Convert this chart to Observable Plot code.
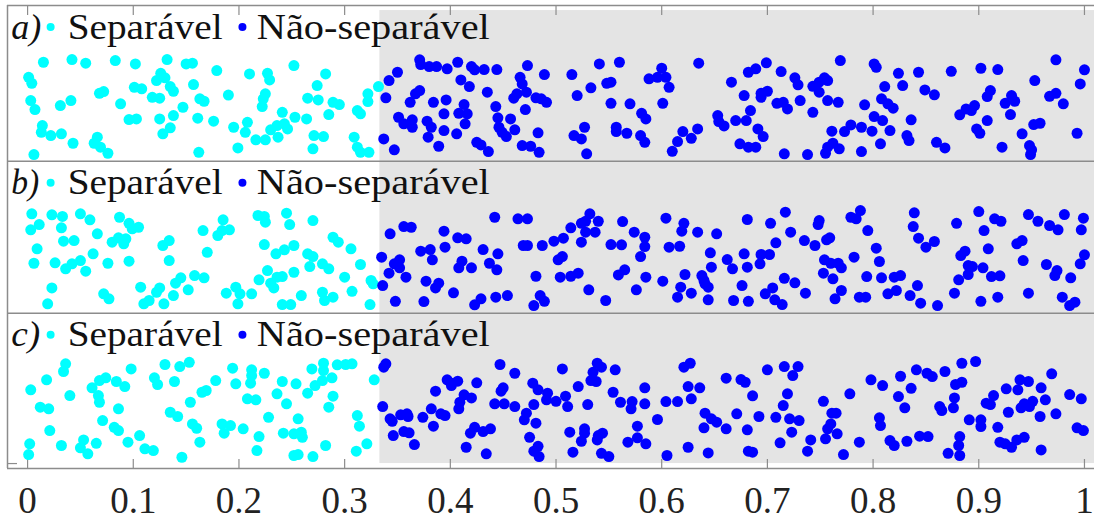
<!DOCTYPE html>
<html><head><meta charset="utf-8">
<script src="https://cdn.jsdelivr.net/npm/d3@7"></script>
<script src="https://cdn.jsdelivr.net/npm/@observablehq/plot@0.6"></script>
<style>html,body{margin:0;padding:0;background:#fff;} #chart svg{display:block;}</style>
</head><body><div id="chart"></div>
<script>
// ---------------- data ----------------
const panels = ["a)", "b)", "c)"];
const classes = ["Separável", "Não-separável"];
const xTicks = [0, 0.1, 0.2, 0.3, 0.4, 0.5, 0.6, 0.7, 0.8, 0.9, 1];
const tickLabels = ["0", "0.1", "0.2", "0.3", "0.4", "0.5", "0.6", "0.7", "0.8", "0.9", "1"];
const threshold = 1 / 3;

// [x, y] points, y in 0..1 within each panel
const sepA = [[0.001,0.807],[0.004,0.745],[0.015,0.962],[0.042,0.990],[0.055,0.952],[0.083,0.979],[0.102,0.945],[0.132,0.990],[0.150,0.945],[0.156,0.952],[0.179,0.876],[0.210,0.842],[0.227,0.848],[0.229,0.780],[0.252,0.928],[0.282,0.842],[0.126,0.848],[0.122,0.773],[0.130,0.801],[0.135,0.711],[0.138,0.663],[0.157,0.732],[0.101,0.704],[0.108,0.688],[0.068,0.642],[0.072,0.660],[0.003,0.567],[0.007,0.474],[0.031,0.515],[0.041,0.567],[0.088,0.533],[0.118,0.601],[0.125,0.591],[0.163,0.585],[0.167,0.560],[0.147,0.498],[0.190,0.624],[0.225,0.636],[0.223,0.585],[0.222,0.505],[0.274,0.722],[0.265,0.591],[0.275,0.574],[0.289,0.549],[0.295,0.526],[0.322,0.636],[0.322,0.557],[0.332,0.711],[0.312,0.464],[0.315,0.430],[0.285,0.423],[0.241,0.446],[0.253,0.395],[0.264,0.378],[0.096,0.371],[0.103,0.378],[0.125,0.378],[0.138,0.412],[0.161,0.385],[0.176,0.354],[0.014,0.309],[0.013,0.240],[0.022,0.206],[0.032,0.224],[0.043,0.127],[0.066,0.189],[0.063,0.127],[0.069,0.086],[0.076,0.024],[0.006,0.010],[0.128,0.224],[0.135,0.286],[0.162,0.034],[0.195,0.292],[0.208,0.343],[0.206,0.240],[0.216,0.162],[0.225,0.162],[0.230,0.265],[0.236,0.309],[0.243,0.327],[0.246,0.275],[0.237,0.189],[0.199,0.079],[0.271,0.206],[0.280,0.196],[0.270,0.069],[0.309,0.189],[0.312,0.086],[0.315,0.034],[0.323,0.034]];

const nonA = [[0.337,0.172],[0.342,0.773],[0.350,0.859],[0.339,0.595],[0.351,0.395],[0.347,0.059],[0.371,0.987],[0.372,0.938],[0.380,0.918],[0.387,0.918],[0.397,0.894],[0.407,0.962],[0.420,0.918],[0.423,0.884],[0.432,0.887],[0.444,0.887],[0.473,0.928],[0.489,0.835],[0.410,0.780],[0.418,0.711],[0.371,0.670],[0.367,0.636],[0.362,0.549],[0.384,0.549],[0.396,0.574],[0.435,0.653],[0.466,0.807],[0.468,0.739],[0.472,0.653],[0.463,0.636],[0.460,0.591],[0.481,0.595],[0.486,0.585],[0.491,0.549],[0.413,0.526],[0.408,0.436],[0.416,0.430],[0.414,0.327],[0.394,0.430],[0.443,0.505],[0.471,0.474],[0.356,0.327],[0.364,0.368],[0.364,0.292],[0.378,0.354],[0.382,0.292],[0.394,0.258],[0.406,0.224],[0.445,0.389],[0.457,0.378],[0.446,0.292],[0.449,0.240],[0.453,0.196],[0.461,0.265],[0.483,0.234],[0.379,0.189],[0.389,0.096],[0.425,0.137],[0.429,0.110],[0.436,0.041],[0.468,0.103],[0.476,0.096],[0.484,0.034],[0.515,0.835],[0.541,0.945],[0.560,0.962],[0.533,0.698],[0.520,0.619],[0.548,0.745],[0.552,0.756],[0.552,0.539],[0.570,0.533],[0.588,0.791],[0.600,0.900],[0.604,0.807],[0.596,0.807],[0.607,0.704],[0.601,0.539],[0.635,0.952],[0.666,0.756],[0.678,0.619],[0.682,0.859],[0.581,0.436],[0.585,0.378],[0.527,0.292],[0.517,0.206],[0.524,0.172],[0.529,0.018],[0.557,0.292],[0.557,0.247],[0.567,0.230],[0.580,0.206],[0.584,0.137],[0.610,0.044],[0.615,0.144],[0.620,0.247],[0.628,0.178],[0.634,0.275],[0.653,0.412],[0.654,0.350],[0.659,0.305],[0.670,0.361],[0.680,0.361],[0.674,0.121],[0.682,0.086],[0.689,0.086],[0.689,0.894],[0.699,0.956],[0.713,0.866],[0.726,0.801],[0.729,0.729],[0.743,0.714],[0.749,0.756],[0.754,0.801],[0.757,0.773],[0.749,0.653],[0.769,0.979],[0.801,0.945],[0.803,0.910],[0.824,0.848],[0.843,0.859],[0.874,0.869],[0.902,0.900],[0.918,0.887],[0.973,0.987],[1.000,0.884],[0.953,0.773],[0.996,0.739],[0.967,0.611],[0.973,0.642],[0.980,0.533],[0.993,0.230],[0.694,0.642],[0.700,0.663],[0.694,0.601],[0.709,0.539],[0.715,0.549],[0.719,0.481],[0.731,0.567],[0.743,0.446],[0.757,0.567],[0.767,0.549],[0.792,0.523],[0.808,0.585],[0.811,0.711],[0.828,0.722],[0.849,0.677],[0.858,0.626],[0.814,0.533],[0.819,0.488],[0.801,0.402],[0.809,0.361],[0.836,0.368],[0.816,0.258],[0.799,0.251],[0.807,0.121],[0.789,0.292],[0.779,0.316],[0.773,0.247],[0.761,0.251],[0.762,0.127],[0.768,0.069],[0.757,0.086],[0.755,0.024],[0.738,0.010],[0.789,0.041],[0.716,0.018],[0.684,0.464],[0.691,0.275],[0.696,0.196],[0.832,0.206],[0.834,0.155],[0.860,0.137],[0.868,0.079],[0.882,0.420],[0.888,0.481],[0.893,0.464],[0.896,0.515],[0.908,0.361],[0.908,0.608],[0.911,0.670],[0.925,0.539],[0.931,0.619],[0.934,0.560],[0.930,0.423],[0.898,0.275],[0.901,0.230],[0.922,0.086],[0.941,0.224],[0.948,0.103],[0.950,0.059],[0.949,0.010],[0.952,0.320],[0.958,0.333]];

const sepB = [[0.004,0.945],[0.011,0.835],[0.003,0.780],[0.023,0.935],[0.033,0.918],[0.032,0.801],[0.050,0.945],[0.059,0.884],[0.066,0.739],[0.034,0.663],[0.044,0.670],[0.009,0.585],[0.006,0.436],[0.026,0.440],[0.036,0.378],[0.042,0.430],[0.050,0.464],[0.055,0.354],[0.062,0.533],[0.076,0.436],[0.080,0.653],[0.086,0.698],[0.093,0.688],[0.091,0.636],[0.087,0.910],[0.096,0.848],[0.099,0.791],[0.105,0.807],[0.096,0.457],[0.023,0.182],[0.019,0.018],[0.072,0.121],[0.077,0.069],[0.107,0.189],[0.110,0.018],[0.115,0.052],[0.122,0.137],[0.125,0.182],[0.129,0.018],[0.138,0.103],[0.140,0.230],[0.145,0.286],[0.152,0.162],[0.158,0.309],[0.167,0.286],[0.128,0.619],[0.134,0.670],[0.134,0.464],[0.166,0.773],[0.180,0.722],[0.184,0.773],[0.191,0.780],[0.185,0.884],[0.170,0.549],[0.188,0.127],[0.197,0.189],[0.201,0.121],[0.199,0.018],[0.212,0.121],[0.218,0.928],[0.224,0.918],[0.225,0.859],[0.245,0.952],[0.248,0.835],[0.270,0.876],[0.224,0.629],[0.235,0.533],[0.243,0.574],[0.252,0.619],[0.227,0.361],[0.219,0.265],[0.230,0.230],[0.233,0.182],[0.236,0.292],[0.241,0.299],[0.252,0.343],[0.265,0.533],[0.270,0.505],[0.267,0.402],[0.279,0.430],[0.285,0.378],[0.289,0.704],[0.294,0.653],[0.306,0.585],[0.315,0.423],[0.300,0.292],[0.325,0.258],[0.327,0.224],[0.259,0.103],[0.279,0.137],[0.281,0.052],[0.289,0.086],[0.307,0.147],[0.241,0.010],[0.249,0.010],[0.324,0.010]];

const nonB = [[0.343,0.739],[0.356,0.814],[0.363,0.807],[0.335,0.498],[0.347,0.430],[0.352,0.471],[0.352,0.389],[0.342,0.334],[0.358,0.292],[0.336,0.206],[0.348,0.044],[0.372,0.560],[0.381,0.577],[0.383,0.471],[0.394,0.766],[0.395,0.601],[0.407,0.698],[0.415,0.688],[0.411,0.457],[0.408,0.389],[0.420,0.389],[0.431,0.577],[0.445,0.533],[0.437,0.436],[0.444,0.368],[0.377,0.251],[0.389,0.230],[0.386,0.182],[0.403,0.131],[0.375,0.041],[0.423,0.007],[0.429,0.069],[0.443,0.086],[0.454,0.103],[0.442,0.910],[0.464,0.894],[0.473,0.894],[0.469,0.619],[0.473,0.619],[0.487,0.619],[0.498,0.663],[0.507,0.694],[0.514,0.801],[0.524,0.848],[0.528,0.869],[0.532,0.945],[0.540,0.869],[0.528,0.756],[0.537,0.756],[0.524,0.653],[0.502,0.471],[0.506,0.505],[0.481,0.302],[0.504,0.292],[0.514,0.302],[0.521,0.333],[0.485,0.103],[0.489,0.044],[0.479,0.000],[0.531,0.162],[0.547,0.052],[0.563,0.866],[0.574,0.756],[0.584,0.704],[0.584,0.608],[0.552,0.629],[0.562,0.626],[0.580,0.505],[0.559,0.316],[0.565,0.368],[0.585,0.292],[0.576,0.162],[0.601,0.251],[0.604,0.900],[0.621,0.848],[0.619,0.766],[0.634,0.756],[0.652,0.739],[0.681,0.887],[0.607,0.601],[0.617,0.611],[0.646,0.543],[0.662,0.474],[0.678,0.533],[0.647,0.395],[0.667,0.378],[0.681,0.395],[0.622,0.320],[0.638,0.309],[0.640,0.258],[0.641,0.224],[0.644,0.189],[0.618,0.189],[0.615,0.086],[0.628,0.127],[0.644,0.059],[0.668,0.052],[0.676,0.206],[0.682,0.044],[0.703,0.848],[0.717,0.962],[0.722,0.756],[0.708,0.646],[0.735,0.670],[0.745,0.619],[0.749,0.876],[0.748,0.835],[0.756,0.677],[0.759,0.698],[0.779,0.910],[0.784,0.894],[0.788,0.979],[0.795,0.773],[0.803,0.591],[0.806,0.454],[0.782,0.498],[0.794,0.299],[0.808,0.286],[0.839,0.956],[0.838,0.814],[0.843,0.694],[0.858,0.660],[0.850,0.601],[0.879,0.848],[0.900,0.969],[0.905,0.773],[0.915,0.894],[0.921,0.869],[0.947,0.938],[0.956,0.869],[0.967,0.825],[0.975,0.780],[0.981,0.938],[0.999,0.900],[0.997,0.780],[0.936,0.636],[0.941,0.670],[0.909,0.585],[0.942,0.464],[1.000,0.523],[0.996,0.430],[0.964,0.423],[0.974,0.361],[0.972,0.309],[0.987,0.286],[0.883,0.515],[0.887,0.560],[0.890,0.412],[0.894,0.402],[0.904,0.389],[0.890,0.320],[0.912,0.299],[0.920,0.306],[0.881,0.265],[0.877,0.127],[0.902,0.044],[0.918,0.086],[0.947,0.127],[0.979,0.086],[0.986,0.000],[0.991,0.034],[0.694,0.526],[0.702,0.526],[0.693,0.430],[0.698,0.121],[0.705,0.182],[0.707,0.059],[0.714,0.010],[0.716,0.281],[0.726,0.234],[0.736,0.127],[0.753,0.333],[0.754,0.471],[0.760,0.436],[0.767,0.436],[0.770,0.389],[0.762,0.275],[0.770,0.155],[0.764,0.069],[0.787,0.086],[0.793,0.086],[0.814,0.121],[0.822,0.155],[0.820,0.292],[0.826,0.309],[0.835,0.103],[0.842,0.206],[0.845,0.024],[0.861,0.000]];

const sepC = [[0.003,0.698],[0.002,0.141],[0.001,0.031],[0.018,0.801],[0.036,0.966],[0.034,0.887],[0.040,0.639],[0.012,0.519],[0.020,0.502],[0.021,0.278],[0.032,0.124],[0.050,0.100],[0.053,0.182],[0.057,0.038],[0.065,0.147],[0.061,0.719],[0.068,0.794],[0.074,0.822],[0.067,0.639],[0.068,0.570],[0.071,0.381],[0.082,0.312],[0.086,0.278],[0.095,0.158],[0.084,0.784],[0.092,0.732],[0.098,0.914],[0.086,0.502],[0.106,0.227],[0.111,0.090],[0.119,0.072],[0.120,0.822],[0.123,0.753],[0.130,0.959],[0.139,0.784],[0.144,0.938],[0.153,0.982],[0.135,0.467],[0.142,0.423],[0.154,0.570],[0.165,0.673],[0.169,0.691],[0.156,0.347],[0.160,0.302],[0.163,0.158],[0.146,0.003],[0.178,0.794],[0.194,0.921],[0.197,0.760],[0.184,0.347],[0.192,0.330],[0.186,0.251],[0.204,0.296],[0.208,0.605],[0.216,0.595],[0.212,0.904],[0.212,0.845],[0.211,0.766],[0.224,0.869],[0.228,0.415],[0.219,0.216],[0.217,0.072],[0.236,0.657],[0.241,0.784],[0.254,0.760],[0.245,0.554],[0.256,0.399],[0.242,0.251],[0.252,0.244],[0.259,0.261],[0.260,0.209],[0.252,0.021],[0.256,0.031],[0.270,0.010],[0.265,0.663],[0.269,0.914],[0.272,0.742],[0.279,0.794],[0.280,0.897],[0.280,0.972],[0.288,0.822],[0.293,0.956],[0.301,0.959],[0.307,0.966],[0.289,0.632],[0.285,0.519],[0.282,0.124],[0.312,0.433],[0.314,0.323],[0.321,0.141],[0.311,0.065],[0.328,0.801]];

const nonC = [[0.339,0.966],[0.337,0.931],[0.336,0.526],[0.343,0.399],[0.345,0.374],[0.353,0.440],[0.359,0.451],[0.360,0.423],[0.346,0.227],[0.356,0.268],[0.361,0.255],[0.366,0.134],[0.374,0.415],[0.382,0.502],[0.386,0.684],[0.384,0.323],[0.391,0.451],[0.395,0.433],[0.397,0.801],[0.401,0.766],[0.407,0.787],[0.401,0.742],[0.413,0.646],[0.420,0.615],[0.409,0.570],[0.408,0.502],[0.425,0.770],[0.442,0.554],[0.451,0.554],[0.461,0.526],[0.447,0.959],[0.461,0.869],[0.450,0.719],[0.448,0.684],[0.478,0.766],[0.483,0.698],[0.492,0.663],[0.491,0.595],[0.500,0.580],[0.509,0.632],[0.521,0.732],[0.506,0.914],[0.472,0.457],[0.470,0.389],[0.479,0.546],[0.481,0.354],[0.511,0.526],[0.530,0.546],[0.535,0.879],[0.539,0.972],[0.543,0.931],[0.533,0.794],[0.538,0.784],[0.556,0.904],[0.554,0.673],[0.561,0.570],[0.572,0.577],[0.571,0.502],[0.584,0.719],[0.584,0.554],[0.577,0.323],[0.577,0.203],[0.568,0.158],[0.585,0.141],[0.513,0.261],[0.527,0.296],[0.527,0.251],[0.524,0.168],[0.516,0.055],[0.540,0.227],[0.544,0.251],[0.539,0.182],[0.543,0.044],[0.550,0.010],[0.475,0.209],[0.483,0.116],[0.484,0.010],[0.479,0.065],[0.415,0.106],[0.419,0.251],[0.423,0.312],[0.431,0.268],[0.438,0.296],[0.434,0.038],[0.596,0.392],[0.604,0.577],[0.615,0.577],[0.621,0.931],[0.627,0.972],[0.625,0.732],[0.636,0.719],[0.628,0.605],[0.641,0.457],[0.647,0.399],[0.652,0.364],[0.640,0.306],[0.661,0.296],[0.671,0.451],[0.661,0.818],[0.675,0.804],[0.679,0.776],[0.605,0.021],[0.625,0.106],[0.644,0.048],[0.681,0.286],[0.682,0.065],[0.686,0.055],[0.686,0.636],[0.692,0.423],[0.700,0.904],[0.716,0.938],[0.724,0.845],[0.729,0.938],[0.719,0.657],[0.715,0.536],[0.708,0.415],[0.721,0.399],[0.730,0.381],[0.723,0.261],[0.712,0.152],[0.738,0.065],[0.741,0.182],[0.753,0.580],[0.755,0.193],[0.757,0.296],[0.760,0.347],[0.761,0.457],[0.765,0.457],[0.766,0.244],[0.772,0.031],[0.778,0.657],[0.787,0.158],[0.798,0.801],[0.809,0.742],[0.806,0.409],[0.807,0.330],[0.816,0.175],[0.820,0.124],[0.832,0.168],[0.844,0.220],[0.852,0.216],[0.824,0.629],[0.826,0.838],[0.830,0.512],[0.836,0.714],[0.841,0.904],[0.851,0.869],[0.856,0.835],[0.868,0.887],[0.878,0.753],[0.884,0.776],[0.884,0.972],[0.897,0.990],[0.863,0.526],[0.865,0.485],[0.877,0.615],[0.876,0.512],[0.871,0.044],[0.881,0.124],[0.882,0.216],[0.882,0.021],[0.891,0.389],[0.902,0.389],[0.902,0.320],[0.907,0.560],[0.914,0.639],[0.911,0.546],[0.918,0.312],[0.920,0.158],[0.925,0.141],[0.931,0.106],[0.936,0.182],[0.943,0.209],[0.928,0.467],[0.926,0.708],[0.937,0.698],[0.939,0.801],[0.947,0.784],[0.940,0.512],[0.943,0.554],[0.948,0.526],[0.951,0.580],[0.959,0.719],[0.963,0.595],[0.958,0.423],[0.959,0.079],[0.969,0.863],[0.973,0.451],[0.986,0.649],[0.997,0.605],[0.993,0.306],[0.999,0.278]];

// ---------------- layout & style ----------------
const COLORS = {"Separável": "#00ffff", "Não-separável": "#0000ff"};
const X_LO = -0.019, X_HI = 1.0095;
const Y_LO = -0.113, Y_HI = 4.660;
const UNIT = 97; // px per y unit
const OFFSET = {"a)": 3.113, "b)": 1.567, "c)": 0};
const TOP = {"a)": Y_HI, "b)": 3.055, "c)": 1.488};
const GRAY_Y1 = -0.062, GRAY_Y2 = 4.608;
const LINE = "#8c8c8c";
const SERIF = "Liberation Serif, Times New Roman, serif";

const sets = {"a)": [sepA, nonA], "b)": [sepB, nonB], "c)": [sepC, nonC]};
const rows = [];
for (const p of panels) {
  sets[p].forEach((arr, k) => {
    for (const [x, y] of arr) rows.push({panel: p, cls: classes[k], x, y: y + OFFSET[p]});
  });
}

const baseline = p => TOP[p] - 33 / UNIT;
const legendDots = panels.flatMap(p => classes.map((c, i) => ({p, c, i})));
const dotX = [0.0218, 0.2033];
const textX = [0.0379, 0.2169];

const chart = Plot.plot({
  width: 1095,
  height: 521,
  marginLeft: 7,
  marginRight: 1,
  marginTop: 5,
  marginBottom: 53,
  style: {background: "#fff", fontFamily: SERIF},
  x: {domain: [X_LO, X_HI]},
  y: {domain: [Y_LO, Y_HI], axis: null},
  color: {type: "identity"},
  marks: [
    Plot.rect([0], {x1: () => threshold, x2: () => X_HI, y1: () => GRAY_Y1, y2: () => GRAY_Y2, fill: "#e4e4e4"}),
    Plot.ruleY([TOP["b)"], TOP["c)"]], {x1: () => X_LO, x2: () => X_HI, stroke: LINE, strokeWidth: 1.5}),
    Plot.ruleY([Y_HI, Y_LO], {x1: () => X_LO, x2: () => X_HI, stroke: LINE, strokeWidth: 1.5}),
    Plot.ruleX([X_LO], {y1: () => Y_LO, y2: () => Y_HI, stroke: LINE, strokeWidth: 1.5}),
    Plot.ruleX(xTicks, {y1: () => Y_HI, y2: () => Y_HI - 10 / UNIT, stroke: LINE, strokeWidth: 1.2}),
    Plot.ruleX(xTicks, {y1: () => Y_LO, y2: () => Y_LO + 9 / UNIT, stroke: LINE, strokeWidth: 1.2}),
    Plot.ruleY([GRAY_Y1], {x1: () => X_LO, x2: () => X_LO + 10 / 1056, stroke: LINE, strokeWidth: 1.2}),
    Plot.dot(rows, {x: "x", y: "y", r: 5.5, fill: d => COLORS[d.cls], stroke: null}),
    Plot.text(panels, {x: () => -0.0155, y: p => baseline(p), text: d => d, textAnchor: "start", lineAnchor: "bottom",
      fontSize: 35, fontStyle: "italic", fontFamily: SERIF, fill: "#111"}),
    Plot.dot(legendDots, {x: d => dotX[d.i], y: d => baseline(d.p) + 11.5 / UNIT, r: 4, fill: d => COLORS[d.c]}),
    Plot.text(legendDots, {x: d => textX[d.i], y: d => baseline(d.p), text: d => d.c, textAnchor: "start", lineAnchor: "bottom",
      fontSize: 35, fontFamily: SERIF, fill: "#111"}),
    Plot.axisX({ticks: xTicks, tickFormat: d => tickLabels[xTicks.indexOf(d)], tickSize: 0, tickPadding: 18,
      fontSize: 37, fontFamily: SERIF, label: null, color: "#222"})
  ]
});

// stretch legend words to the reference widths
const widths = {"Separável": 155, "Não-separável": 233, "a)": 30, "b)": 28, "c)": 29};
d3.select(chart).selectAll("text").each(function () {
  const t = this.textContent;
  if (widths[t]) {
    this.setAttribute("textLength", widths[t]);
    this.setAttribute("lengthAdjust", "spacingAndGlyphs");
  }
});
document.getElementById("chart").appendChild(chart);
</script>
</body></html>
